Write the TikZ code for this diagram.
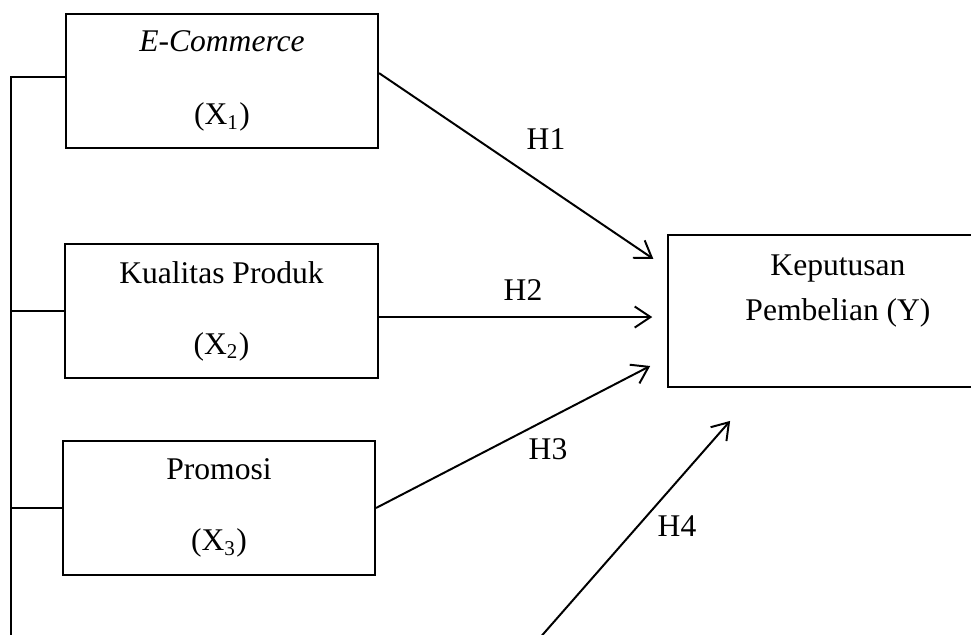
\documentclass[tikz,border=0pt]{standalone}
\usepackage{fontspec}
\setmainfont{Liberation Serif}
\usetikzlibrary{arrows.meta}

\begin{document}
\begin{tikzpicture}[x=0.38pt, y=-0.38pt,
    font=\fontsize{12}{14.5}\selectfont,
    var/.style={draw, line width=0.75pt, minimum width=118.6pt, minimum height=50.9pt, align=center, inner sep=0pt},
    arr/.style={line width=0.75pt, -{Straight Barb[length=6pt,width=8pt]}}]
    \useasboundingbox (0,0) rectangle (971,635);

    \node[var] (x1) at (222,81) {\textit{E-Commerce}\\[13pt](X\textsubscript{1})};
    \node[var] (x2) at (221.5,311) {Kualitas Produk\\[12.5pt](X\textsubscript{2})};
    \node[var] (x3) at (219,508) {Promosi\\[12.5pt](X\textsubscript{3})};
    \node[var, minimum width=129pt, minimum height=57.8pt, text depth=18pt] (y) at (838,311) {Keputusan\\[2.6pt]Pembelian (Y)};

    \coordinate (bus) at (11,645);
    \coordinate (h4) at (538,640);

    \draw[line width=0.75pt] ([yshift=1.5pt]x1.west) -| (bus);
    \draw[line width=0.75pt] (x2.west) -- (x2.west -| bus);
    \draw[line width=0.75pt] (x3.west) -- (x3.west -| bus);

    \draw[arr] ([yshift=3pt]x1.east) -- ([xshift=-5.3pt,yshift=19.8pt]y.west);
    \draw[arr] ([yshift=-2.3pt]x2.east) -- ([xshift=-5.7pt,yshift=-2.3pt]y.west);
    \draw[arr] (x3.east) -- ([xshift=-6.5pt,yshift=-20.9pt]y.west);
    \draw[arr] (h4) -- ([xshift=-41pt,yshift=-12.5pt]y.south);

    \node (l1) at (546,139) {H1};
    \node (l2) at (523,290) {H2};
    \node (l3) at (548,449) {H3};
    \node (l4) at (677,526) {H4};

\end{tikzpicture}
\end{document}
